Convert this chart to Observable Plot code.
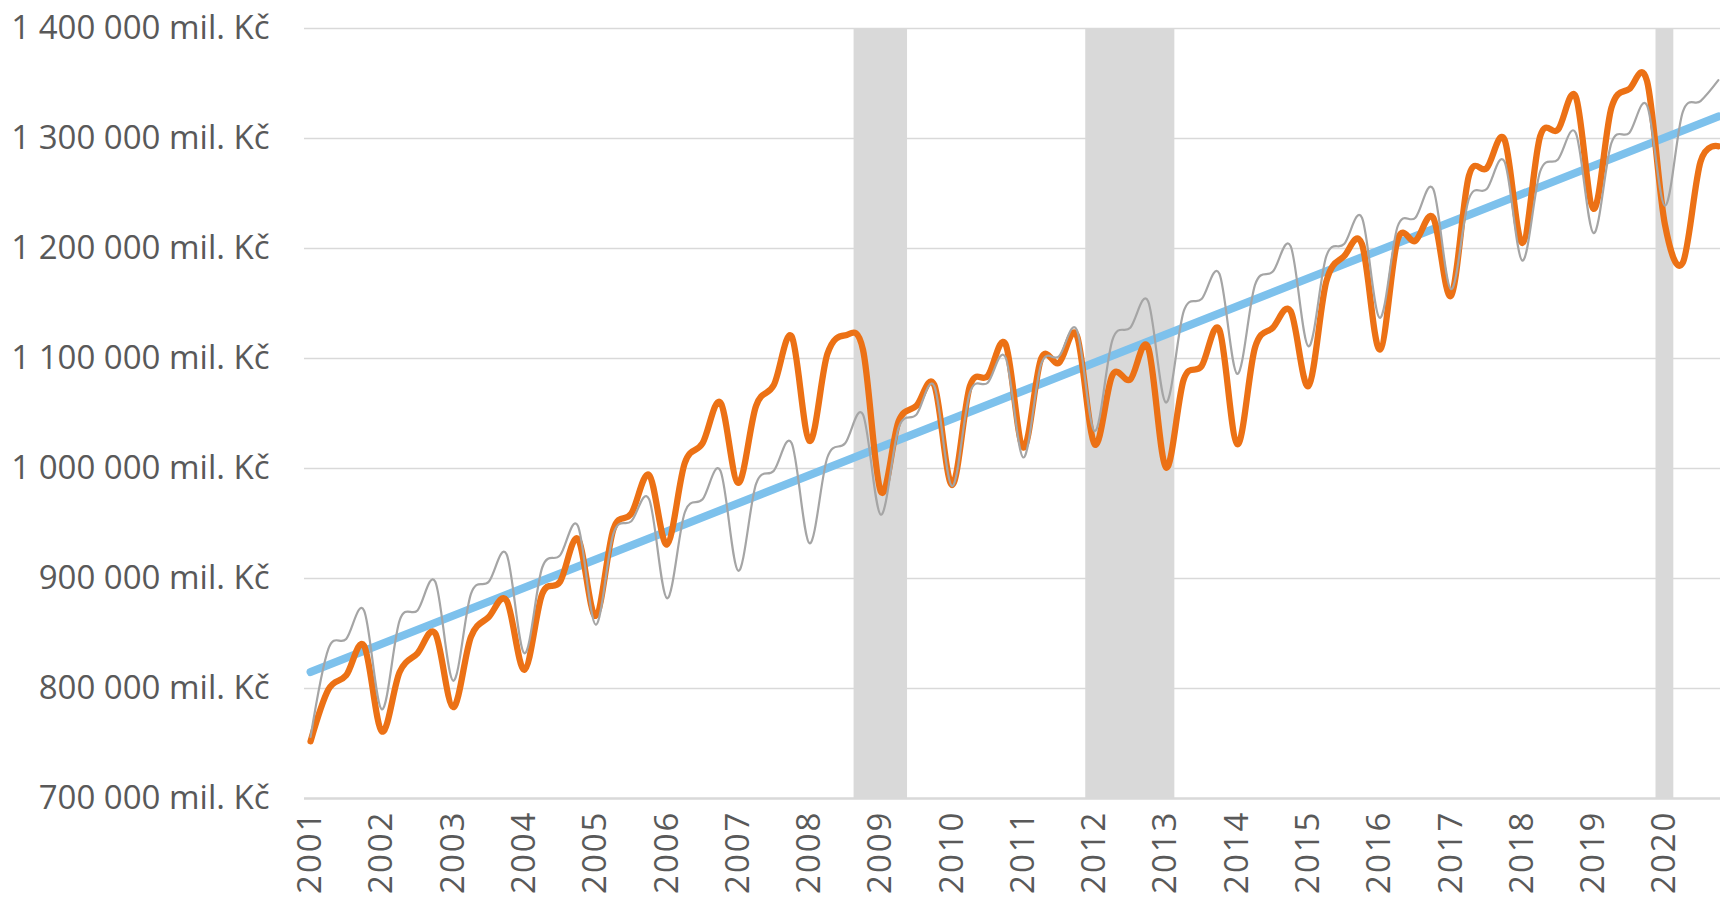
<!DOCTYPE html>
<html>
<head>
<meta charset="utf-8">
<script src="https://cdn.jsdelivr.net/npm/d3@7"></script>
<script src="https://cdn.jsdelivr.net/npm/@observablehq/plot@0.6"></script>
<style>
  html, body { margin: 0; padding: 0; background: #ffffff; }
  #chart { width: 1720px; height: 898px; }
</style>
</head>
<body>
<div id="chart"></div>
<script>
// ---- data (mil. Kč, quarterly 2001Q1 – 2020Q4) ----
const years = [2001, 2002, 2003, 2004, 2005, 2006, 2007, 2008, 2009, 2010,
               2011, 2012, 2013, 2014, 2015, 2016, 2017, 2018, 2019, 2020];
const quarterNames = ["Q1", "Q2", "Q3", "Q4"];

// orange series (actual)
const actual = [
  752000, 799000, 812000, 839000,
  761000, 815000, 832000, 850000,
  783000, 847000, 865000, 880000,
  817000, 886000, 897000, 936000,
  866000, 945000, 959000, 994000,
  931000, 1005000, 1023000, 1060000,
  987000, 1057000, 1076000, 1120000,
  1025000, 1104000, 1121000, 1108000,
  979000, 1043000, 1057000, 1076000,
  985000, 1075000, 1084000, 1113000,
  1019000, 1100000, 1096000, 1121000,
  1022000, 1085000, 1081000, 1110000,
  1001000, 1081000, 1093000, 1126000,
  1022000, 1110000, 1128000, 1143000,
  1075000, 1170000, 1193000, 1204000,
  1108000, 1208000, 1207000, 1228000,
  1157000, 1266000, 1273000, 1299000,
  1205000, 1302000, 1308000, 1338000,
  1236000, 1328000, 1345000, 1352000,
  1222000, 1187000, 1279000, 1293000
];

// grey series (potential)
const potential = [
  756000, 836000, 845000, 871000,
  781000, 862000, 871000, 897000,
  807000, 886000, 897000, 922000,
  832000, 910000, 921000, 948000,
  858000, 941000, 952000, 972000,
  882000, 960000, 972000, 998000,
  907000, 986000, 998000, 1023000,
  932000, 1010000, 1023000, 1049000,
  958000, 1037000, 1049000, 1075000,
  984000, 1069000, 1078000, 1101000,
  1010000, 1095000, 1102000, 1126000,
  1034000, 1117000, 1128000, 1152000,
  1060000, 1143000, 1154000, 1177000,
  1086000, 1167000, 1179000, 1202000,
  1111000, 1193000, 1204000, 1228000,
  1137000, 1220000, 1228000, 1254000,
  1163000, 1245000, 1254000, 1279000,
  1189000, 1270000, 1281000, 1305000,
  1214000, 1296000, 1305000, 1330000,
  1239000, 1324000, 1334000, 1353000
];

// straight trend line: first and last quarter
const trendQuarters = ["2001Q1", "2020Q4"];
const trendValues = [815000, 1320000];

// shaded recession quarters
const recessionQuarters = ["2008Q4", "2009Q1", "2009Q2",
  "2012Q1", "2012Q2", "2012Q3", "2012Q4", "2013Q1",
  "2020Q1"];

const yTicks = [700000, 800000, 900000, 1000000, 1100000, 1200000, 1300000, 1400000];

// ---- build tables ----
const quarters = years.flatMap(y => quarterNames.map(q => `${y}${q}`));
const qIndex = new Map(quarters.map((q, i) => [q, i]));
const rows = quarters.map((q, i) => ({q, i, actual: actual[i], potential: potential[i]}));
const trend = trendQuarters.map((q, k) => ({i: qIndex.get(q), v: trendValues[k]}));
const yearTickIdx = years.map(y => qIndex.get(`${y}Q1`));

// merge consecutive shaded quarters into single bands
const recIdx = recessionQuarters.map(q => qIndex.get(q)).sort((a, b) => a - b);
const bands = [];
for (const i of recIdx) {
  const last = bands[bands.length - 1];
  if (last && last.end === i - 1) last.end = i;
  else bands.push({start: i, end: i});
}

const locale = d3.formatLocale({decimal: ",", thousands: " ", grouping: [3], currency: ["", ""]});
const fmt = locale.format(",d");

const chart = Plot.plot({
  width: 1720,
  height: 898,
  marginLeft: 304,
  marginRight: 0,
  marginTop: 28,
  marginBottom: 100,
  style: {fontFamily: "'Open Sans', sans-serif", fontSize: "33px", color: "#595959", background: "#ffffff"},
  x: {type: "linear", domain: [-0.34, 79.12]},
  y: {domain: [700000, 1400000]},
  marks: [
    Plot.ruleY(yTicks.slice(1), {stroke: "#d9d9d9", strokeWidth: 1.6}),
    Plot.rect(bands, {x1: d => d.start - 0.5, x2: d => d.end + 0.5, y1: 700000, y2: 1400000, fill: "#d9d9d9"}),
    Plot.ruleY([700000], {stroke: "#d9d9d9", strokeWidth: 2.4}),
    Plot.line(trend, {x: "i", y: "v", stroke: "#7DC1EC", strokeWidth: 8, strokeLinecap: "round"}),
    Plot.line(rows, {x: "i", y: "actual", curve: "cardinal", tension: 0, stroke: "#EC7115", strokeWidth: 6.3, strokeLinecap: "round", strokeLinejoin: "round"}),
    Plot.line(rows, {x: "i", y: "potential", curve: "cardinal", tension: 0, stroke: "#A5A5A5", strokeWidth: 2.2}),
    Plot.axisY(yTicks, {tickSize: 0, tickPadding: 35, tickFormat: d => `${fmt(d)} mil. Kč`, label: null, fontSize: 33}),
    Plot.axisX(yearTickIdx, {tickSize: 0, tickPadding: 12, tickRotate: -90, tickFormat: i => String(years[i / 4]), label: null, fontSize: 33})
  ]
});
chart.querySelectorAll('[aria-label="x-axis tick label"] text').forEach(t => {
  t.style.letterSpacing = "2px";
});
document.getElementById("chart").appendChild(chart);
</script>
</body>
</html>
